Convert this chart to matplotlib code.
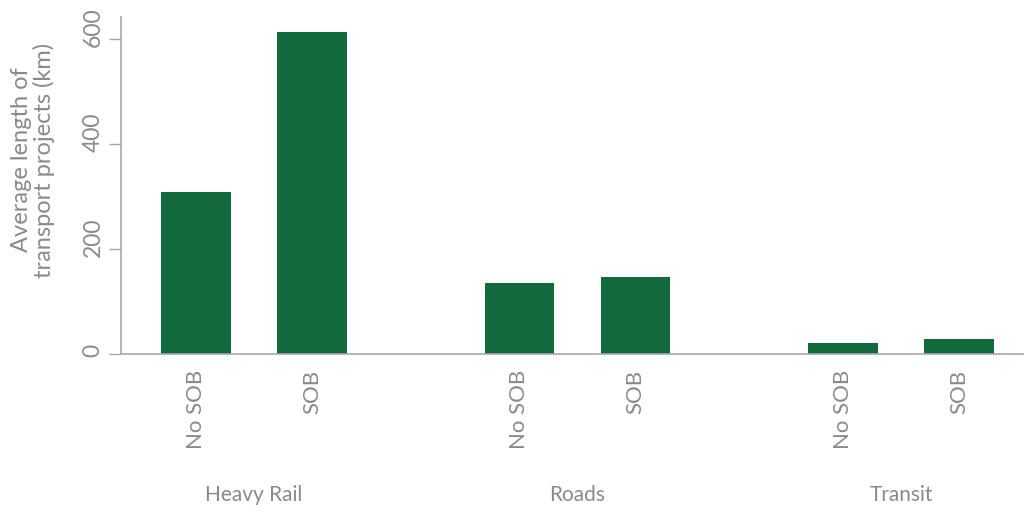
import matplotlib
matplotlib.use("Agg")
import matplotlib.pyplot as plt
from matplotlib.transforms import blended_transform_factory, ScaledTranslation
import numpy as np

# Average project length by mode and SOB status
groups = ["Heavy Rail", "Roads", "Transit"]
sub_labels = ["No SOB", "SOB"]
no_sob = [309, 136, 21]
sob = [614, 147, 29]
y_ticks = [0, 200, 400, 600]

GREEN = "#116a3c"
GREY = "#8a8a8a"
AXIS = "#a8a8a8"

plt.rcParams["font.family"] = ["Lato", "DejaVu Sans"]

fig = plt.figure(figsize=(10.24, 5.12), dpi=100)
ax = fig.add_axes([0.118, 0.308, 0.882, 0.659])

group_gap = 2.79
width = 0.60
x_pos, heights, tick_text = [], [], []
for gi, g in enumerate(groups):
    for si, vals in enumerate([no_sob, sob]):
        x_pos.append(gi * group_gap + si)
        heights.append(vals[gi])
        tick_text.append(sub_labels[si])

ax.bar(x_pos, heights, width=width, color=GREEN)

ax.set_xlim(-0.647, 7.14)
ax.set_ylim(0, 642)
ax.set_yticks(y_ticks)
ax.set_xticks(x_pos)
ax.set_xticklabels(tick_text, rotation=90, fontsize=16, color=GREY)
ax.tick_params(axis="x", length=0, pad=11)
ax.tick_params(axis="y", length=8.5, width=1, color=AXIS, labelcolor=GREY,
               labelsize=16.5, pad=4)
fig.canvas.draw()
for lbl in ax.get_yticklabels():
    lbl.set_rotation(90)
    lbl.set_va("center")
    # labels sit slightly above their ticks, more so for longer numbers
    shift = 2.8 * len(lbl.get_text()) / 72.0
    lbl.set_transform(lbl.get_transform() + ScaledTranslation(0, shift, fig.dpi_scale_trans))

for side in ["top", "right"]:
    ax.spines[side].set_visible(False)
for side in ["left", "bottom"]:
    ax.spines[side].set_color(AXIS)
    ax.spines[side].set_linewidth(1.2)

trans = blended_transform_factory(ax.transData, fig.transFigure)
for gi, g in enumerate(groups):
    ax.text(gi * group_gap + 0.5, 1 - 495 / 512, g, transform=trans,
            ha="center", va="center", fontsize=15, color=GREY)

fig.text(33 / 1024, 1 - 160 / 512, "Average length of\ntransport projects (km)",
         rotation=90, ha="center", va="center", fontsize=17, color=GREY,
         linespacing=1.0)

fig.savefig("out.png", dpi=100)
